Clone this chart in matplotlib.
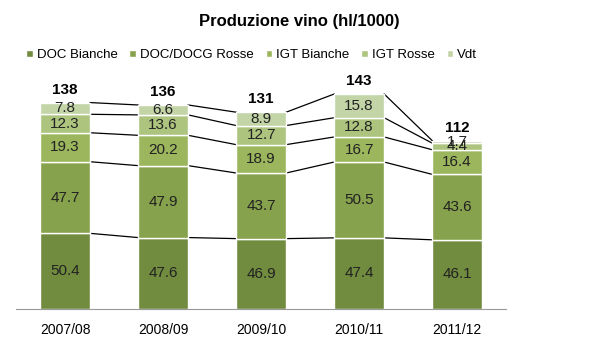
import matplotlib.pyplot as plt
import numpy as np

plt.rcParams['font.family'] = ['Liberation Sans Narrow', 'Liberation Sans', 'DejaVu Sans']

years = ["2007/08", "2008/09", "2009/10", "2010/11", "2011/12"]
series = ["DOC Bianche", "DOC/DOCG Rosse", "IGT Bianche", "IGT Rosse", "Vdt"]
doc_bianche = [50.4, 47.6, 46.9, 47.4, 46.1]
doc_rosse = [47.7, 47.9, 43.7, 50.5, 43.6]
igt_bianche = [19.3, 20.2, 18.9, 16.7, 16.4]
igt_rosse = [12.3, 13.6, 12.7, 12.8, 4.4]
vdt = [7.8, 6.6, 8.9, 15.8, 1.7]
totals = [138, 136, 131, 143, 112]
colors = ["#718b3f", "#87a24c", "#9cb65d", "#adc47f", "#c3d4a6"]

data = [doc_bianche, doc_rosse, igt_bianche, igt_rosse, vdt]

fig = plt.figure(figsize=(5.99, 3.64), dpi=100)
ax = fig.add_axes([0.027, 0.151, 0.818, 0.66])
x = np.arange(len(years))
w = 0.51
bottom = np.zeros(len(years))
for vals, name, c in zip(data, series, colors):
    vals = np.array(vals)
    ax.bar(x, vals, w, bottom=bottom, color=c, edgecolor="white", linewidth=1, label=name, zorder=2)
    for xi, b, v in zip(x, bottom, vals):
        ax.text(xi, b + v / 2, f"{v:.1f}", ha="center", va="center", fontsize=11, color="#222222", zorder=3)
    top = bottom + vals
    for i in range(len(years) - 1):
        ax.plot([x[i] + w / 2, x[i + 1] - w / 2], [top[i], top[i + 1]], color="black", lw=0.9, zorder=1)
    bottom = top

for xi, t, b in zip(x, totals, bottom):
    ax.text(xi, b + 4, str(t), ha="center", va="bottom", fontsize=11, fontweight="bold")

ax.set_xlim(-0.5, len(years) - 0.5)
ax.set_ylim(0, 160)
ax.set_yticks([])
ax.set_xticks(x)
ax.set_xticklabels(years, fontsize=10)
ax.tick_params(axis="x", length=0, pad=10)
for s in ["top", "right", "left"]:
    ax.spines[s].set_visible(False)
ax.spines["bottom"].set_color("#999999")

fig.text(0.5, 0.94, "Produzione vino (hl/1000)", ha="center", va="center", fontsize=12, fontweight="bold")
fig.legend(loc="center", bbox_to_anchor=(0.42, 0.848), ncol=5, frameon=False, fontsize=9.5,
           handlelength=0.5, handleheight=0.5, handletextpad=0.3, columnspacing=0.9)

fig.savefig("out.png", dpi=100)
